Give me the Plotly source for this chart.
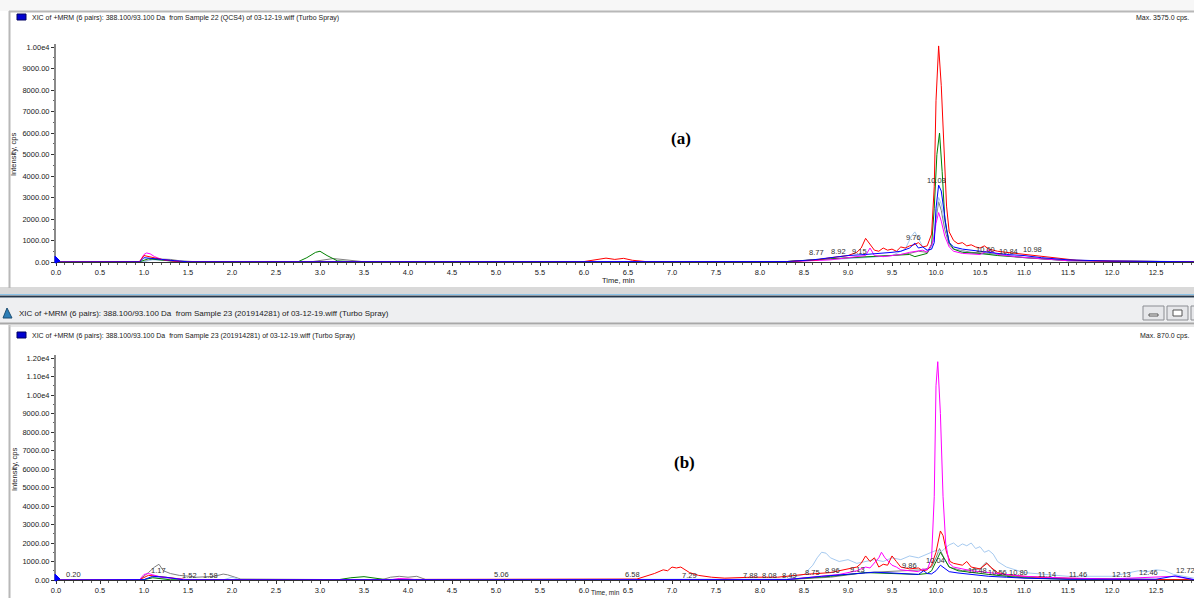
import plotly.graph_objects as go

W, H = 1194, 598

# ---------------- data: panel (a) Sample 22 (QCS4) ----------------
A_red_t = [0, 0.95, 1.0, 1.05, 1.1, 1.2, 1.3, 1.45, 6.0, 6.15, 6.25, 6.35, 6.45, 6.55, 6.7, 8.3, 8.5, 8.65, 8.77, 8.9, 9.0, 9.1, 9.15, 9.2, 9.25, 9.3, 9.35, 9.4, 9.45, 9.5, 9.55, 9.6, 9.65, 9.7, 9.75, 9.8, 9.85, 9.9, 9.95, 9.98, 10.0, 10.03, 10.06, 10.09, 10.12, 10.15, 10.2, 10.25, 10.3, 10.35, 10.4, 10.45, 10.5, 10.55, 10.6, 10.65, 10.7, 10.8, 10.9, 11.0, 11.2, 11.4, 11.6, 12.0, 12.93]
A_red_v = [0, 20, 300, 250, 200, 120, 60, 10, 20, 120, 180, 120, 170, 80, 20, 20, 60, 100, 180, 250, 300, 450, 650, 1100, 800, 550, 500, 650, 550, 600, 500, 700, 650, 750, 800, 900, 700, 750, 1300, 3500, 7500, 10050, 8200, 5000, 2600, 1400, 1000, 850, 900, 750, 800, 700, 650, 750, 600, 550, 500, 450, 400, 350, 250, 150, 80, 30, 10]

A_green_t = [0, 0.95, 1.05, 1.2, 1.4, 2.75, 2.85, 2.95, 3.0, 3.08, 3.2, 3.4, 8.3, 8.8, 9.0, 9.3, 9.5, 9.7, 9.76, 9.8, 9.9, 9.95, 9.98, 10.01, 10.04, 10.07, 10.1, 10.15, 10.2, 10.3, 10.5, 10.7, 11.0, 11.5, 12.93]
A_green_v = [0, 10, 150, 80, 10, 10, 200, 450, 500, 300, 50, 10, 20, 150, 200, 280, 300, 350, 250, 300, 400, 800, 2500, 5000, 6000, 4200, 2000, 900, 600, 450, 400, 300, 200, 60, 10]

A_blue_t = [0, 0.95, 1.0, 1.1, 1.2, 1.35, 1.5, 8.3, 8.6, 8.9, 9.0, 9.2, 9.4, 9.5, 9.6, 9.7, 9.76, 9.8, 9.85, 9.9, 9.95, 9.98, 10.0, 10.03, 10.06, 10.09, 10.12, 10.15, 10.2, 10.3, 10.4, 10.5, 10.6, 10.7, 10.8, 11.0, 11.2, 11.5, 12.0, 12.93]
A_blue_v = [0, 10, 200, 150, 120, 60, 10, 20, 100, 250, 300, 350, 400, 450, 500, 650, 880, 650, 700, 550, 600, 900, 2500, 3575, 3300, 2400, 1500, 900, 700, 600, 550, 500, 450, 400, 350, 300, 200, 100, 40, 10]

A_gray_t = [0, 1.0, 1.1, 1.2, 1.3, 1.4, 1.6, 2.9, 3.05, 3.15, 3.25, 3.35, 3.5, 8.3, 8.8, 9.2, 9.5, 9.7, 9.8, 9.9, 9.97, 10.0, 10.03, 10.06, 10.1, 10.15, 10.2, 10.4, 10.6, 10.8, 11.0, 11.5, 12.93]
A_gray_v = [0, 20, 150, 130, 120, 60, 10, 10, 100, 160, 120, 80, 10, 20, 150, 250, 300, 400, 500, 450, 1000, 2000, 2800, 2400, 1500, 800, 600, 450, 400, 300, 200, 80, 10]

A_magenta_t = [0, 0.95, 1.0, 1.03, 1.07, 1.12, 1.2, 1.35, 1.5, 8.3, 8.8, 9.0, 9.1, 9.2, 9.25, 9.3, 9.4, 9.6, 9.7, 9.76, 9.85, 9.9, 9.95, 9.98, 10.0, 10.03, 10.06, 10.1, 10.15, 10.2, 10.3, 10.5, 10.6, 10.7, 10.9, 11.2, 11.5, 12.93]
A_magenta_v = [0, 20, 350, 420, 380, 250, 120, 40, 10, 10, 100, 200, 250, 300, 650, 300, 250, 350, 450, 500, 550, 450, 800, 1200, 1800, 2300, 1900, 1200, 700, 500, 400, 350, 550, 350, 250, 150, 60, 10]

A_lightblue_t = [0, 1.0, 1.1, 1.3, 1.5, 8.3, 8.8, 9.2, 9.5, 9.65, 9.72, 9.76, 9.8, 9.85, 9.9, 9.95, 9.98, 10.0, 10.03, 10.06, 10.1, 10.15, 10.2, 10.4, 10.6, 10.8, 11.0, 11.5, 12.93]
A_lightblue_v = [0, 20, 100, 60, 10, 10, 100, 200, 300, 600, 1200, 1400, 1100, 700, 500, 600, 1200, 2200, 3000, 2700, 1800, 900, 600, 400, 350, 300, 200, 60, 10]

A_label_t = [8.64, 8.89, 9.13, 9.74, 10.0, 10.56, 10.82, 11.1]
A_label_v = [420, 510, 510, 1160, 3770, 600, 510, 560]
A_label_text = ["8.77", "8.92", "9.15", "9.76", "10.03", "10.60", "10.84", "10.98"]

# ---------------- data: panel (b) Sample 23 (201914281) ----------------
B_magenta_t = [0, 0.95, 1.0, 1.05, 1.1, 1.2, 1.35, 1.5, 3.8, 3.9, 4.0, 4.1, 8.3, 8.6, 8.9, 9.1, 9.2, 9.25, 9.3, 9.35, 9.38, 9.42, 9.5, 9.55, 9.6, 9.7, 9.8, 9.85, 9.9, 9.95, 9.98, 10.0, 10.02, 10.05, 10.08, 10.11, 10.15, 10.2, 10.3, 10.4, 10.5, 10.6, 10.7, 10.8, 11.0, 11.5, 12.0, 12.7, 12.93]
B_magenta_v = [0, 20, 300, 350, 280, 150, 80, 10, 10, 80, 60, 10, 20, 150, 300, 500, 700, 650, 900, 1200, 1500, 1200, 800, 700, 550, 500, 450, 600, 550, 1200, 4500, 10500, 11800, 9000, 4500, 2000, 900, 700, 600, 500, 450, 400, 350, 300, 200, 100, 60, 200, 20]

B_red_t = [0, 0.95, 1.05, 1.15, 1.3, 1.5, 6.6, 6.7, 6.8, 6.9, 6.95, 7.0, 7.05, 7.1, 7.15, 7.2, 7.3, 7.45, 7.6, 7.9, 8.2, 8.5, 8.8, 9.0, 9.1, 9.15, 9.2, 9.25, 9.3, 9.35, 9.4, 9.45, 9.5, 9.55, 9.6, 9.7, 9.8, 9.85, 9.9, 9.95, 10.0, 10.05, 10.08, 10.12, 10.16, 10.2, 10.3, 10.35, 10.4, 10.5, 10.58, 10.62, 10.7, 10.8, 11.0, 11.3, 11.6, 12.0, 12.93]
B_red_v = [0, 20, 250, 200, 100, 10, 50, 200, 350, 550, 500, 700, 650, 700, 550, 400, 250, 150, 100, 150, 150, 300, 400, 600, 700, 900, 1300, 1000, 1200, 700, 850, 800, 1300, 1000, 700, 600, 650, 500, 550, 800, 1500, 2650, 2400, 1500, 1000, 900, 800, 1000, 700, 600, 900, 700, 400, 300, 200, 120, 80, 40, 10]

B_green_t = [0, 1.0, 1.1, 1.3, 3.2, 3.35, 3.5, 3.6, 3.75, 8.3, 8.8, 9.2, 9.5, 9.8, 9.9, 9.95, 10.0, 10.05, 10.1, 10.15, 10.25, 10.4, 10.6, 10.8, 11.0, 11.5, 12.93]
B_green_v = [0, 20, 120, 10, 10, 120, 180, 120, 20, 20, 200, 400, 350, 300, 350, 500, 1000, 1500, 1100, 700, 500, 400, 300, 200, 120, 40, 10]

B_blue_t = [0, 1.0, 1.1, 1.25, 1.45, 8.3, 8.7, 9.0, 9.3, 9.5, 9.7, 9.8, 9.86, 9.9, 9.95, 10.0, 10.05, 10.1, 10.15, 10.25, 10.4, 10.6, 10.8, 11.0, 11.5, 12.5, 12.72, 12.93]
B_blue_v = [0, 20, 200, 150, 10, 20, 200, 300, 420, 380, 330, 300, 500, 350, 330, 500, 800, 600, 450, 380, 300, 200, 150, 100, 40, 40, 220, 20]

B_gray_t = [0, 0.95, 1.05, 1.12, 1.17, 1.22, 1.3, 1.4, 1.52, 1.6, 1.8, 1.9, 1.95, 2.1, 3.7, 3.8, 3.9, 4.0, 4.1, 4.2, 8.3, 8.8, 9.2, 9.6, 9.85, 9.95, 10.0, 10.04, 10.08, 10.15, 10.3, 10.5, 10.57, 10.62, 10.7, 10.9, 11.2, 12.93]
B_gray_v = [0, 20, 400, 700, 850, 500, 350, 250, 200, 150, 200, 320, 280, 50, 10, 150, 200, 150, 200, 30, 20, 150, 400, 500, 550, 700, 1200, 1700, 1300, 700, 500, 600, 950, 700, 300, 200, 100, 10]

B_lightblue_t = [0, 1.0, 1.1, 1.3, 1.9, 2.0, 2.1, 8.3, 8.5, 8.6, 8.65, 8.7, 8.75, 8.8, 8.9, 9.0, 9.1, 9.2, 9.3, 9.4, 9.5, 9.6, 9.7, 9.8, 9.9, 9.95, 10.0, 10.05, 10.1, 10.15, 10.2, 10.25, 10.3, 10.35, 10.4, 10.45, 10.5, 10.55, 10.6, 10.65, 10.7, 10.8, 11.0, 11.5, 12.0, 12.2, 12.3, 12.4, 12.5, 12.6, 12.7, 12.93]
B_lightblue_v = [0, 10, 150, 50, 10, 150, 10, 50, 300, 800, 1200, 1500, 1450, 1200, 1000, 1100, 900, 1000, 1100, 1000, 1200, 1100, 1300, 1200, 1400, 1500, 1600, 1500, 1700, 1900, 2000, 1800, 1950, 1850, 2000, 1700, 1800, 1500, 1600, 1400, 1000, 700, 400, 200, 200, 400, 500, 450, 550, 500, 300, 100]

B_label_t = [0.20, 1.16, 1.52, 1.75, 5.06, 6.55, 7.2, 7.89, 8.11, 8.33, 8.6, 8.82, 9.11, 9.7, 9.99, 10.47, 10.7, 10.94, 11.26, 11.61, 12.11, 12.42, 12.83]
B_label_v = [320, 490, 270, 270, 320, 320, 270, 270, 270, 270, 430, 540, 590, 760, 1030, 490, 430, 430, 320, 320, 320, 430, 540]
B_label_text = ["0.20", "1.17", "1.52", "1.58", "5.06", "6.58", "7.29", "7.88", "8.08", "8.49", "8.75", "8.96", "9.13", "9.86", "10.04", "10.48", "10.56", "10.80", "11.14", "11.46", "12.13", "12.46", "12.72"]

A_ytick_vals = [0, 1000, 2000, 3000, 4000, 5000, 6000, 7000, 8000, 9000, 10000]
A_ytick_text = ["0.00", "1000.00", "2000.00", "3000.00", "4000.00", "5000.00", "6000.00", "7000.00", "8000.00", "9000.00", "1.00e4"]
B_ytick_vals = [0, 1000, 2000, 3000, 4000, 5000, 6000, 7000, 8000, 9000, 10000, 11000, 12000]
B_ytick_text = ["0.00", "1000.00", "2000.00", "3000.00", "4000.00", "5000.00", "6000.00", "7000.00", "8000.00", "9000.00", "1.00e4", "1.10e4", "1.20e4"]

TITLE_A = "XIC of +MRM (6 pairs): 388.100/93.100 Da  from Sample 22 (QCS4) of 03-12-19.wiff (Turbo Spray)"
TITLE_B = "XIC of +MRM (6 pairs): 388.100/93.100 Da  from Sample 23 (201914281) of 03-12-19.wiff (Turbo Spray)"
MAX_A = "Max. 3575.0 cps."
MAX_B = "Max. 870.0 cps."

COLORS = {"gray": "#808080", "lightblue": "#a6caf0", "green": "#008000",
          "magenta": "#ff00ff", "red": "#ff0000", "blue": "#0000ff"}

# ---------------- figure ----------------
def X(p):
    return p / W


def Y(p):
    return 1 - p / H


FONT = "Liberation Sans, Arial, sans-serif"
XMAX = (W - 56) / 88.0

fig = go.Figure()

panel_a = [("gray", A_gray_t, A_gray_v), ("lightblue", A_lightblue_t, A_lightblue_v),
           ("green", A_green_t, A_green_v), ("magenta", A_magenta_t, A_magenta_v),
           ("red", A_red_t, A_red_v), ("blue", A_blue_t, A_blue_v)]
panel_b = [("gray", B_gray_t, B_gray_v), ("lightblue", B_lightblue_t, B_lightblue_v),
           ("green", B_green_t, B_green_v), ("red", B_red_t, B_red_v),
           ("magenta", B_magenta_t, B_magenta_v), ("blue", B_blue_t, B_blue_v)]

for name, t, v in panel_a:
    fig.add_trace(go.Scatter(x=t, y=v, mode="lines", line=dict(color=COLORS[name], width=1),
                             xaxis="x", yaxis="y", hoverinfo="skip", showlegend=False))
for name, t, v in panel_b:
    fig.add_trace(go.Scatter(x=t, y=v, mode="lines", line=dict(color=COLORS[name], width=1),
                             xaxis="x2", yaxis="y2", hoverinfo="skip", showlegend=False))

tickfont = dict(family=FONT, size=7.5, color="#202020")
xax = dict(range=[0, XMAX], dtick=0.5, tick0=0, tickformat=".1f", showgrid=False, zeroline=False,
           automargin=False,
           showline=True, linecolor="#303030", linewidth=1, ticks="outside", ticklen=3,
           tickcolor="#303030", tickfont=tickfont,
           minor=dict(dtick=0.1, ticks="outside", ticklen=1.5, tickcolor="#606060"))
yax = dict(showgrid=False, zeroline=False, showline=True, linecolor="#8a8a8a", linewidth=2,
           automargin=False,
           ticks="outside", ticklen=3, tickcolor="#303030", tickfont=tickfont, tickmode="array",
           minor=dict(dtick=500, tick0=0, ticks="outside", ticklen=1.5, tickcolor="#606060"))

fig.update_layout(
    width=W, height=H, margin=dict(l=0, r=0, t=0, b=0, pad=0),
    paper_bgcolor="white", plot_bgcolor="white", showlegend=False,
    xaxis=dict(xax, domain=[X(56), 1], anchor="y"),
    yaxis=dict(yax, domain=[Y(262), Y(44)], range=[0, (262 - 44) / 21.5 * 1000], anchor="x",
               tickvals=A_ytick_vals, ticktext=A_ytick_text),
    xaxis2=dict(xax, domain=[X(56), 1], anchor="y2"),
    yaxis2=dict(yax, domain=[Y(580), Y(355)], range=[0, (580 - 355) / 18.5 * 1000], anchor="x2",
                tickvals=B_ytick_vals, ticktext=B_ytick_text),
)

shapes = []
def rect(x0, y0, x1, y1, fill, line=None, lw=0, layer="below"):
    shapes.append(dict(type="rect", xref="paper", yref="paper", x0=X(x0), x1=X(x1), y0=Y(y0), y1=Y(y1),
                       fillcolor=fill, line=dict(color=line or fill, width=lw), layer=layer))

def hline(y, x0, x1, color, w):
    shapes.append(dict(type="line", xref="paper", yref="paper", x0=X(x0), x1=X(x1), y0=Y(y), y1=Y(y),
                       line=dict(color=color, width=w)))

def vline(x, y0, y1, color, w):
    shapes.append(dict(type="line", xref="paper", yref="paper", x0=X(x), x1=X(x), y0=Y(y0), y1=Y(y1),
                       line=dict(color=color, width=w)))

# window chrome
rect(0, 0, W, 11, "#f7f7f7")
hline(11.5, 9, W, "#b8b8b8", 2)
vline(9.5, 11, 288, "#b8b8b8", 2)
rect(0, 287, W, 294, "#d9d9d9")
hline(294.5, 0, W, "#8cc3e8", 1)
hline(296.5, 0, W, "#25384c", 2)
rect(0, 298, W, 323, "#eeeff1")
hline(323.5, 0, W, "#a8a8a8", 2)
vline(9.5, 325, H, "#b8b8b8", 2)
hline(326, 9, W, "#d0d0d0", 1)
# window buttons
for bx in (1143, 1167, 1191):
    shapes.append(dict(type="rect", xref="paper", yref="paper", x0=X(bx), x1=X(bx + 21), y0=Y(320), y1=Y(306),
                       fillcolor="#e6e7ea", line=dict(color="#8b8d92", width=1), layer="above"))
rect(1149, 314, 1158, 316, "#ffffff", "#555555", 1, "above")
rect(1173, 310, 1182, 316, "#ffffff", "#555555", 1, "above")
# small window icon
shapes.append(dict(type="path", xref="paper", yref="paper", layer="above",
                   path=f"M {X(3)} {Y(318)} L {X(7)} {Y(308)} L {X(12)} {Y(318)} Z",
                   fillcolor="#2e7fb8", line=dict(color="#1d4f74", width=1)))
# header color squares
rect(17, 14, 26, 20, "#0000d0", "#000060", 1, "above")
rect(17, 332, 26, 338, "#0000d0", "#000060", 1, "above")
# blue markers at origin
for yb in (262, 580):
    shapes.append(dict(type="path", xref="paper", yref="paper", layer="above",
                       path=f"M {X(55)} {Y(yb - 6)} L {X(60)} {Y(yb - 1)} L {X(55)} {Y(yb + 1)} Z",
                       fillcolor="#0000ff", line=dict(color="#0000ff", width=1)))

fig.update_layout(shapes=shapes)

ann = []
def txt(x, y, s, size=7.5, xanchor="left", yanchor="middle", color="#202020", family=FONT, angle=0, bold=False):
    if bold:
        s = "<b>" + s + "</b>"
    ann.append(dict(xref="paper", yref="paper", x=X(x), y=Y(y), text=s, showarrow=False,
                    xanchor=xanchor, yanchor=yanchor, textangle=angle,
                    font=dict(size=size, color=color, family=family)))

txt(30, 18, TITLE_A, size=7)
txt(1191, 18, MAX_A, size=7, xanchor="right")
txt(17, 313, TITLE_B, size=8, color="#1a1a1a")
txt(30, 336, TITLE_B, size=7)
txt(1191, 336, MAX_B, size=7, xanchor="right")
txt(14, 155, "Intensity, cps", size=7.5, xanchor="center", angle=-90)
txt(14, 470, "Intensity, cps", size=7.5, xanchor="center", angle=-90)
txt(618, 280, "Time, min", size=7.5, xanchor="center")
txt(605, 598, "Time, min", size=6.5, xanchor="center", yanchor="bottom")
txt(681, 139, "(a)", size=17, xanchor="center", family="Liberation Serif, Times New Roman, serif", color="#000000", bold=True)
txt(684, 462, "(b)", size=17, xanchor="center", family="Liberation Serif, Times New Roman, serif", color="#000000", bold=True)

for t, v, s in zip(A_label_t, A_label_v, A_label_text):
    ann.append(dict(xref="x", yref="y", x=t, y=v, text=s, showarrow=False, xanchor="center", yanchor="middle",
                    font=dict(size=7.5, color="#303030", family=FONT)))
for t, v, s in zip(B_label_t, B_label_v, B_label_text):
    ann.append(dict(xref="x2", yref="y2", x=t, y=v, text=s, showarrow=False, xanchor="center", yanchor="middle",
                    font=dict(size=7.5, color="#303030", family=FONT)))

fig.update_layout(annotations=ann)

fig.write_html("out.html", config={"displayModeBar": False},
               post_script="document.body.style.margin='0';document.body.style.overflow='hidden';")
